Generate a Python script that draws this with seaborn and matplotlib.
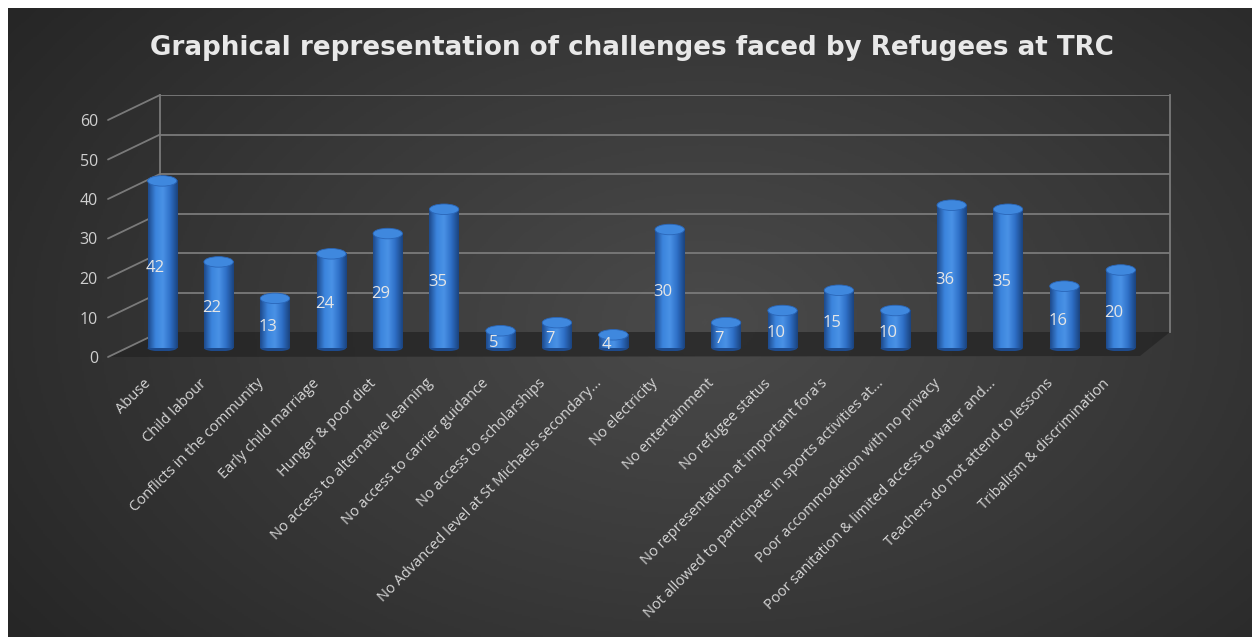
import numpy as np
import pandas as pd
import matplotlib
matplotlib.use("Agg")
import matplotlib.pyplot as plt
from matplotlib.patches import Ellipse, Polygon
from matplotlib.colors import LinearSegmentedColormap
import seaborn as sns

categories = [
    "Abuse", "Child labour", "Conflicts in the community", "Early child marriage",
    "Hunger & poor diet", "No access to alternative learning",
    "No access to carrier guidance", "No access to scholarships",
    "No Advanced level at St Michaels secondary...", "No electricity",
    "No entertainment", "No refugee status",
    "No representation at important fora's",
    "Not allowed to participate in sports activities at...",
    "Poor accommodation with no privacy",
    "Poor sanitation & limited access to water and...",
    "Teachers do not attend to lessons", "Tribalism & discrimination",
]
values = [42, 22, 13, 24, 29, 35, 5, 7, 4, 30, 7, 10, 15, 10, 36, 35, 16, 20]
y_ticks = [0, 10, 20, 30, 40, 50, 60]
title = "Graphical representation of challenges faced by Refugees at TRC"

df = pd.DataFrame({"challenge": categories, "count": values})

sns.set_theme(style="white")
plt.rcParams["font.family"] = ["Open Sans", "DejaVu Sans"]

W, H = 1252, 637
fig = plt.figure(figsize=(W / 100, H / 100), dpi=100)
fig.patch.set_facecolor("white")


def box(l, t, r, b):
    return [l / W, 1 - b / H, (r - l) / W, (b - t) / H]


# background with radial gradient
bg = fig.add_axes([8 / W, 0, 1 - 8 / W, 1 - 8 / H])
bg.set_axis_off()
yy, xx = np.mgrid[0:1:300j, 0:1:600j]
r = np.sqrt(((xx - 0.56) / 0.75) ** 2 + ((yy - 0.5) / 0.95) ** 2)
r = np.clip(r, 0, 1)
bg_cmap = LinearSegmentedColormap.from_list("bg", ["#4a4a4a", "#393939", "#262626"])
bg.imshow(r, cmap=bg_cmap, aspect="auto", extent=(0, 1, 0, 1), origin="lower")
bg.set_xlim(0, 1)
bg.set_ylim(0, 1)

# floor of the 3D frame
floor = Polygon([[110 / W, 1 - 357 / H], [160 / W, 1 - 332 / H],
                 [1170 / W, 1 - 332 / H], [1140 / W, 1 - 356 / H]],
                closed=True, transform=fig.transFigure, facecolor="#242424",
                edgecolor="none", alpha=0.75)
bg.add_patch(floor)

# back wall with gridlines
wall = fig.add_axes(box(160, 95, 1170, 332))
wall.set_facecolor("none")
wall.set_ylim(0, 60)
wall.set_xlim(0, 1)
wall.set_xticks([])
wall.set_yticks([])
for t in y_ticks[1:]:
    wall.axhline(t, color="#7a7a7a", lw=1.3)
for s in ["top", "bottom"]:
    wall.spines[s].set_visible(False)
for s in ["left", "right"]:
    wall.spines[s].set_color("#7a7a7a")
    wall.spines[s].set_linewidth(1.3)
ytrans = wall.get_yaxis_transform()
for t in y_ticks:
    wall.annotate("", xy=(0, t), xycoords=ytrans, xytext=(-52, -25),
                  textcoords="offset pixels",
                  arrowprops=dict(arrowstyle="-", color="#7a7a7a", lw=1.3,
                                  shrinkA=0, shrinkB=0))
    wall.annotate(str(t), xy=(0, t), xycoords=ytrans, xytext=(-62, -27),
                  textcoords="offset pixels", ha="right", va="center",
                  color="#d0d0d0", fontsize=11.5)

# bars
ax = fig.add_axes(box(134, 108, 1149, 351))
ax.set_facecolor("none")
sns.barplot(data=df, x="challenge", y="count", color="#2f74cf", width=0.52,
            saturation=1, ax=ax, zorder=3)
ax.set_xlim(-0.5, 17.5)
ax.set_ylim(0, 60)
ax.set_yticks([])
ax.set_xlabel("")
ax.set_ylabel("")
for s in ax.spines.values():
    s.set_visible(False)

# category labels sit slightly left of each bar (perspective front edge)
ax.set_xticks([i - 0.34 for i in range(len(categories))])
ax.set_xticklabels(categories, rotation=45, ha="right", va="top",
                   rotation_mode="anchor", color="#d6d6d6", fontsize=10.5)
ax.tick_params(axis="x", length=0, pad=18)

# cylinder shading
shade = LinearSegmentedColormap.from_list(
    "cyl", ["#1d4a8c", "#3b84dc", "#4a92e6", "#2e6fc6", "#1a437f"])
grad = np.linspace(0, 1, 64).reshape(1, -1)
for p, v in zip(ax.patches, values):
    x0, w, h = p.get_x(), p.get_width(), p.get_height()
    p.set_visible(False)
    ax.imshow(grad, cmap=shade, aspect="auto", extent=(x0, x0 + w, 0.7, h),
              zorder=3, interpolation="bicubic")
    ax.add_patch(Ellipse((x0 + w / 2, 0.7), w, 1.6, facecolor="#1d4a8c",
                         edgecolor="none", zorder=2.9))
    ax.add_patch(Ellipse((x0 + w / 2, h), w, 2.6, facecolor="#3f88de",
                         edgecolor="#2a66b8", lw=0.6, zorder=4))
    ax.text(x0 + w / 2 - 0.12, h / 2 - 0.5, str(v), ha="center", va="center",
            color="#e6e6e6", fontsize=12, zorder=5)

fig.text(0.505, 1 - 48 / H, title, ha="center", va="center", color="#e8e8e8",
         fontsize=18.8, fontweight="bold", family="DejaVu Sans")

fig.savefig("out.png", dpi=100)
